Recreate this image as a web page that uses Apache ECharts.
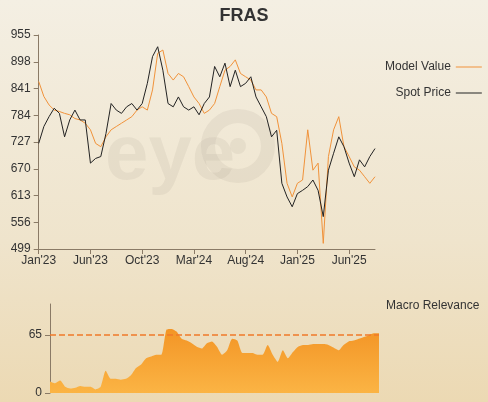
<!DOCTYPE html>
<html><head><meta charset="utf-8">
<script src="https://cdn.jsdelivr.net/npm/echarts@6/dist/echarts.min.js"></script>
<style>html,body{margin:0;padding:0;}body{width:488px;height:402px;background:linear-gradient(to bottom,#f4efe3 0%,#efe4cc 60%,#ecd9b3 100%);}#c{width:488px;height:402px;}</style>
</head><body><div id="c"></div>
<script>
const tickLabels = ["Jan'23","Jun'23","Oct'23","Mar'24","Aug'24","Jan'25","Jun'25"];
const spotPrice = [724,760,781,799,788,738,774,795,774,774,682,692,696,745,809,795,788,802,809,795,809,852,909,930,880,809,802,823,802,795,802,785,809,823,888,866,895,845,880,845,852,866,823,802,781,738,752,639,610,589,617,624,632,646,624,568,667,703,738,717,682,653,689,674,696,713];
const modelValue = [856,824,806,795,792,788,785,777,774,767,753,724,717,738,753,760,767,774,781,795,802,795,838,916,923,873,859,873,866,845,823,809,788,795,809,845,880,888,902,873,866,859,838,838,823,788,781,724,639,610,639,646,753,667,682,511,696,753,781,717,696,674,667,653,639,653];
const macroRelevance = [13,11,14,7,5,6,8,7,7,4,7,25,16,16,15,16,20,28,32,39,41,43,43,71,72,69,61,59,56,52,50,56,58,52,43,48,61,59,45,45,45,43,43,54,43,35,48,39,46,52,54,54,55,55,55,54,51,48,54,58,59,61,63,65,67,67];
const yBase = 499;
const categories = spotPrice.map((_, i) => i % 10 === 0 ? tickLabels[i / 10] : '');
const axisCol = '#8a7a66';
const chart = echarts.init(document.getElementById('c'));
chart.setOption({
  animation:false,
  title:{text:'FRAS',left:'center',top:2,textStyle:{fontFamily:'Liberation Sans',fontSize:18,fontWeight:'bold',color:'#333'}},
  legend:{data:['Model Value','Spot Price'],orient:'vertical',left:380,top:56,align:'right',itemGap:14,itemWidth:26,itemHeight:1,icon:'rect',
    textStyle:{fontFamily:'Liberation Sans',fontSize:12,color:'#333',width:70,align:'left'}},
  graphic:[
    {type:'text',left:386,top:300,style:{text:'Macro Relevance',fontFamily:'Liberation Sans',fontSize:12,fill:'#333'}},
    {type:'text',left:105,top:118,z:0,style:{text:'eye',fontFamily:'Liberation Sans',fontSize:78,fontWeight:'bold',fill:'rgba(120,110,100,0.09)'}},
    {type:'circle',shape:{cx:238,cy:146,r:30},z:0,style:{fill:'none',stroke:'rgba(120,110,100,0.09)',lineWidth:14}},
    {type:'circle',shape:{cx:238,cy:146,r:8},z:0,style:{fill:'rgba(120,110,100,0.09)'}}
  ],
  grid:[{left:38.7,right:113,top:35,bottom:153},{left:50,right:109,top:304,bottom:9}],
  xAxis:[
    {type:'category',gridIndex:0,data:categories,boundaryGap:false,
     axisLine:{lineStyle:{color:axisCol}},axisTick:{interval:9,lineStyle:{color:axisCol}},
     axisLabel:{interval:9,color:'#333',fontFamily:'Liberation Sans',fontSize:12,margin:6}},
    {type:'category',gridIndex:1,data:categories,boundaryGap:false,show:false}
  ],
  yAxis:[
    {type:'value',gridIndex:0,min:0,max:456,interval:57,splitLine:{show:false},
     axisLine:{show:true,lineStyle:{color:axisCol}},axisTick:{show:true,lineStyle:{color:axisCol}},
     axisLabel:{formatter:v=>String(v+yBase),color:'#333',fontFamily:'Liberation Sans',fontSize:12}},
    {type:'value',gridIndex:1,min:0,max:100,interval:65,splitLine:{show:false},
     axisLine:{show:true,lineStyle:{color:axisCol}},axisTick:{show:true,lineStyle:{color:axisCol}},
     axisLabel:{showMaxLabel:false,color:'#333',fontFamily:'Liberation Sans',fontSize:12}}
  ],
  series:[
    {name:'Model Value',type:'line',xAxisIndex:0,yAxisIndex:0,data:modelValue.map(v=>v-yBase),showSymbol:false,
     lineStyle:{color:'#f0923a',width:1},itemStyle:{color:'#f0923a'},z:3},
    {name:'Spot Price',type:'line',xAxisIndex:0,yAxisIndex:0,data:spotPrice.map(v=>v-yBase),showSymbol:false,
     lineStyle:{color:'#222',width:1},itemStyle:{color:'#222'},z:4},
    {name:'Macro',type:'line',xAxisIndex:1,yAxisIndex:1,data:macroRelevance,showSymbol:false,smooth:0.2,
     lineStyle:{width:0},
     areaStyle:{opacity:1,color:new echarts.graphic.LinearGradient(0,0,0,1,[{offset:0,color:'#f39526'},{offset:1,color:'#fbb444'}])},
     markLine:{symbol:'none',silent:true,label:{show:false},lineStyle:{color:'#f07a2a',type:'dashed',width:1.5},data:[{yAxis:65}]}}
  ]
});
</script></body></html>
